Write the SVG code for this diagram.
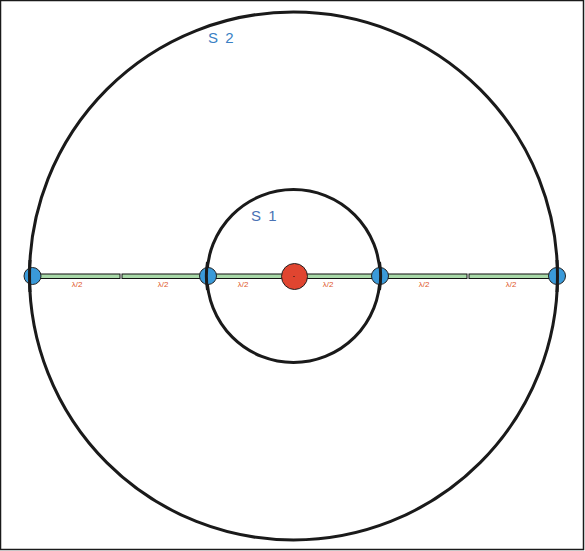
<svg xmlns="http://www.w3.org/2000/svg" width="585" height="551" viewBox="0 0 585 551">
<style>
.ring{fill:none;stroke:#1a1a1a;stroke-width:3}
.bar{fill:#a8d8a8;stroke:#111;stroke-width:1}
.node{fill:#3a9ad9;stroke:#222;stroke-width:1}
.lbl{font-family:"Liberation Sans",Arial,sans-serif;font-size:8px;fill:#e0581f;text-anchor:middle}
.s{font-family:"Liberation Sans",Arial,sans-serif;font-size:15px;fill:#3a7fc4}
</style>
<rect x="0.5" y="0.5" width="583" height="549" fill="#fff" stroke="#1a1a1a" stroke-width="1.5"/>
<g id="S2"><circle class="ring" cx="293.5" cy="276" r="264"/><text class="s" x="208" y="43" letter-spacing="1.5">S 2</text></g>
<g id="S1"><circle class="ring" cx="293.5" cy="276" r="86.5"/><text class="s" x="251" y="221" letter-spacing="1.5" fill="#4a72b4" style="fill:#4a72b4">S 1</text></g>
<g id="connectors">
<rect class="bar" x="33" y="274" width="87" height="4.5"/>
<rect class="bar" x="122" y="274" width="86" height="4.5"/>
<rect class="bar" x="208" y="274" width="86" height="4.5"/>
<rect class="bar" x="294" y="274" width="86" height="4.5"/>
<rect class="bar" x="380" y="274" width="87" height="4.5"/>
<rect class="bar" x="469" y="274" width="88" height="4.5"/>
<text class="lbl" x="77" y="287">λ/2</text>
<text class="lbl" x="163" y="287">λ/2</text>
<text class="lbl" x="243" y="287">λ/2</text>
<text class="lbl" x="328" y="287">λ/2</text>
<text class="lbl" x="424" y="287">λ/2</text>
<text class="lbl" x="511" y="287">λ/2</text>
</g>
<g id="n1"><circle class="node" cx="32.5" cy="276" r="8.5"/></g>
<g id="n2"><circle class="node" cx="208" cy="276" r="8.5"/></g>
<g id="n3"><circle class="node" cx="380" cy="276" r="8.5"/></g>
<g id="n4"><circle class="node" cx="557" cy="276" r="8.5"/></g>
<g id="source"><circle cx="294.5" cy="276.5" r="13" fill="#e04530" stroke="#222" stroke-width="1"/></g>
<g id="rings-over">
<path d="M30,260 A264,264 0 0 0 30,292 M557,260 A264,264 0 0 1 557,292 M207.5,262 A86.5,86.5 0 0 0 207.5,290 M379.5,262 A86.5,86.5 0 0 1 379.5,290" fill="none" stroke="#1a1a1a" stroke-width="3"/>
<line x1="294" y1="276" x2="294" y2="277" stroke="#111" stroke-width="1"/>
</g>
</svg>
